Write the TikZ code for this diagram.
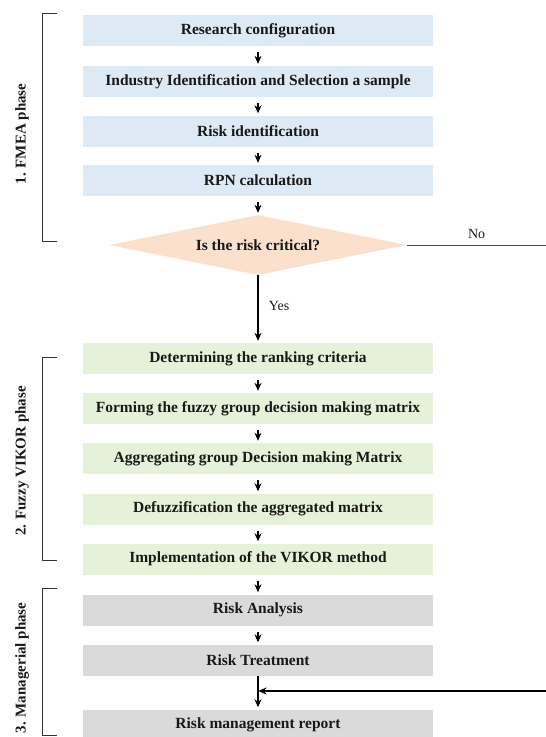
\documentclass[tikz,border=0pt]{standalone}
\usepackage{fontspec}
\setmainfont{Liberation Serif}
\usetikzlibrary{shapes.geometric,arrows.meta}
\definecolor{boxblue}{HTML}{DDEAF6}
\definecolor{boxgreen}{HTML}{E6F1DA}
\definecolor{boxgray}{HTML}{DADADA}
\definecolor{diapeach}{HTML}{FBE1CD}
\begin{document}
\begin{tikzpicture}[x=1pt,y=-1pt,
  stepbox/.style={rectangle,minimum width=350pt,minimum height=31pt,inner sep=0pt,
    font=\fontsize{15.5}{17}\selectfont\bfseries,text=black!90},
  bluebox/.style={stepbox,fill=boxblue},
  greenbox/.style={stepbox,fill=boxgreen},
  graybox/.style={stepbox,fill=boxgray},
  decision/.style={diamond,aspect=5,minimum width=298pt,minimum height=60pt,inner sep=0pt,
    fill=diapeach,font=\fontsize{15.5}{17}\selectfont\bfseries,text=black!90},
  flow/.style={-{Stealth[length=8pt,width=7pt]},line width=1.1pt,shorten <=6pt,shorten >=2pt},
  bracketline/.style={line width=0.7pt,black!80},
  phaselabel/.style={rotate=90,font=\fontsize{15}{17}\selectfont\bfseries,text=black!90},
  lbl/.style={font=\fontsize{14}{16}\selectfont,text=black!90}
]
\useasboundingbox (0,0) rectangle (546,737);
\clip (0,0) rectangle (546,737);

\node[bluebox] (r1) at (258,30.5) {Research configuration};
\node[bluebox] (r2) at (258,81.5) {Industry Identification and Selection a sample};
\node[bluebox] (r3) at (258,131) {Risk identification};
\node[bluebox] (r4) at (258,180.5) {RPN calculation};
\node[decision] (d) at (258,245) {Is the risk critical?};
\node[greenbox] (g1) at (258,358.5) {Determining the ranking criteria};
\node[greenbox] (g2) at (258,408.5) {Forming the fuzzy group decision making matrix};
\node[greenbox] (g3) at (258,458.5) {Aggregating group Decision making Matrix};
\node[greenbox] (g4) at (258,509) {Defuzzification the aggregated matrix};
\node[greenbox] (g5) at (258,559) {Implementation of the VIKOR method};
\node[graybox] (k1) at (258,610) {Risk Analysis};
\node[graybox] (k2) at (258,660) {Risk Treatment};
\node[graybox] (k3) at (258,725) {Risk management report};

\draw[flow] (r1) -- (r2);
\draw[flow] (r2) -- (r3);
\draw[flow] (r3) -- (r4);
\draw[flow] (r4) -- (d);
\draw[flow,shorten <=0pt] (d) -- node[lbl,right=7pt,pos=0.45] (yes) {Yes} (g1);
\draw[flow] (g1) -- (g2);
\draw[flow] (g2) -- (g3);
\draw[flow] (g3) -- (g4);
\draw[flow] (g4) -- (g5);
\draw[flow] (g5) -- (k1);
\draw[flow] (k1) -- (k2);
\draw[flow,shorten <=0pt] (k2) -- (k3);

\coordinate (noend) at (546,245);
\coordinate (retstart) at (546,691);
\coordinate (retend) at (258.5,691);
\draw[line width=1pt,black!70] (d.east) -- node[lbl,above=3pt] (no) {No} (noend);
\draw[-{Stealth[length=8pt,width=7pt]},line width=1.1pt] (retstart) -- (retend);

\draw[bracketline] (57,13) -- (42,13) -- (42,241) -- (57,241);
\draw[bracketline] (57,357) -- (42,357) -- (42,560) -- (57,560);
\draw[bracketline] (57,588) -- (42,588) -- (42,735) -- (57,735);
\node[phaselabel] (p1) at (22,134) {1. FMEA phase};
\node[phaselabel] (p2) at (22,461) {2. Fuzzy VIKOR phase};
\node[phaselabel] (p3) at (22,668) {3. Managerial phase};
\end{tikzpicture}
\end{document}
